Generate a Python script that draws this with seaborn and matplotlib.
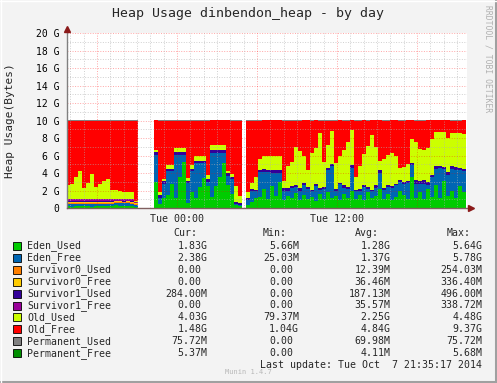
import numpy as np
import pandas as pd
import matplotlib
matplotlib.use("Agg")
import matplotlib.pyplot as plt
import seaborn as sns
from matplotlib.patches import Rectangle
from matplotlib.lines import Line2D

nan = np.nan

# 18-minute samples, Mon 15:42 .. Tue 21:42, values in G (nan = no data)
times = pd.date_range("2014-10-06 15:42", periods=100, freq="18min")

eden_used = [0.2, 0.15, 0.2, 0.2, 0.25, 0.2, 0.15, 0.2, 0.2, 0.25, 0.2, 0.2, 0.3, 0.25, 0.2, 0.25, 0.2, 0.15,
             nan, nan, nan, nan,
             3.0, 0.5, 1.1, 1.5, 2.8, 1.1, 3.6, 5.3, 0.6, 1.8, 1.2, 2.4, 3.4, 2.5, 1.3, 2.5, 3.6, 5.2, 2.6, 1.6, 0.3, 0.25,
             nan,
             0.4, 0.7, 1.1, 1.3, 2.2, 1.0, 2.5, 1.4, 3.0, 0.9, 1.4, 1.1, 1.7, 0.9, 1.5, 1.0, 1.3, 0.8, 1.6, 1.0,
             1.8, 1.2, 1.4, 0.9, 1.6, 1.1, 2.0, 1.0, 1.5, 0.9, 1.8, 1.1, 1.4, 2.2, 1.0, 1.6, 0.9, 1.3, 2.0, 1.5,
             1.0, 3.5, 1.2, 1.8, 1.0, 2.2, 1.3, 2.6, 1.2, 3.1, 1.4, 2.0, 1.1, 2.5, 1.8]
eden_free = [0.25, 0.3, 0.25, 0.25, 0.2, 0.25, 0.3, 0.25, 0.25, 0.2, 0.25, 0.3, 0.3, 0.3, 0.35, 0.3, 0.3, 0.2,
             nan, nan, nan, nan,
             3.09, 0.7, 1.7, 2.68, 1.38, 4.99, 2.49, 0.79, 2.3, 2.38, 3.9, 2.7, 1.7, 0.5, 5.0, 3.8, 2.7, 1.1, 1.1, 1.7, 0.2, 0.15,
             nan,
             0.5, 1.2, 0.8, 2.8, 1.95, 3.1, 1.55, 2.65, 1.0, 1.1, 0.6, 1.2, 0.7, 1.1, 1.1, 1.2, 0.6, 1.7, 0.5, 1.2,
             2.6, 3.6, 0.6, 1.8, 0.7, 1.1, 2.6, 0.9, 0.5, 1.5, 0.4, 0.8, 0.9, 1.8, 1.1, 0.8, 1.4, 1.3, 1.0, 1.3,
             1.9, 1.4, 1.6, 0.9, 1.8, 0.4, 2.2, 1.9, 3.4, 1.4, 2.4, 2.5, 3.3, 1.8, 2.4]
surv0_used = [0.1, 0.1, 0.12, 0.1, 0.1, 0.12, 0.1, 0.1, 0.1, 0.12, 0.1, 0.08, 0.05, 0.1, 0.1, 0.1, 0.1, 0.1,
              nan, nan, nan, nan] + [0.0] * 22 + [nan] + [0.0] * 55
surv0_free = [0.15, 0.15, 0.13, 0.15, 0.15, 0.13, 0.15, 0.15, 0.15, 0.13, 0.15, 0.12, 0.1, 0.1, 0.05, 0.1, 0.12, 0.1,
              nan, nan, nan, nan] + [0.0] * 22 + [nan] + [0.0] * 55
surv1_used = [0.05] * 18 + [nan, nan, nan, nan] + \
             [0.27, 0.25, 0.25, 0.26, 0.26, 0.31, 0.31, 0.31, 0.2, 0.26, 0.25, 0.25, 0.25, 0.3, 0.3, 0.3, 0.3, 0.3, 0.25, 0.25, 0.2, 0.15,
              nan,
              0.25, 0.3, 0.2, 0.3, 0.3, 0.3, 0.3, 0.3, 0.3, 0.3, 0.3, 0.2, 0.2, 0.3, 0.3, 0.2, 0.2, 0.2, 0.2, 0.2,
              0.2, 0.2, 0.2, 0.2, 0.3, 0.2, 0.3, 0.2, 0.2, 0.2, 0.2, 0.2, 0.3, 0.3, 0.2, 0.2, 0.2, 0.2, 0.2, 0.2,
              0.2, 0.2, 0.4, 0.4, 0.4, 0.4, 0.3, 0.3, 0.2, 0.2, 0.3, 0.3, 0.3, 0.3, 0.3]
surv1_free = [0.25] * 17 + [0.1] + [nan, nan, nan, nan] + [0.0] * 22 + [nan] + [0.0] * 55
old_used = [1.65, 1.8, 2.6, 3.25, 1.26, 1.84, 2.9, 1.45, 1.76, 2.03, 2.33, 1.07, 1.02, 0.95, 0.84, 0.79, 0.82, 0.05,
            nan, nan, nan, nan,
            0.31, 0.43, 0.25, 0.46, 0.46, 0.46, 0.46, 0.46, 0.3, 0.46, 0.55, 0.55, 0.55, 0.5, 0.6, 0.6, 0.6, 0.6, 0.25, 0.35, 1.8, 0.85,
            nan,
            0.65, 0.7, 1.5, 1.2, 1.45, 1.5, 1.6, 1.6, 1.6, 0.8, 2.5, 2.8, 4.4, 4.2, 3.0, 2.0, 4.2, 4.2, 6.3, 2.9,
            2.6, 3.8, 2.9, 3.0, 4.0, 5.2, 4.0, 1.5, 2.6, 3.6, 4.7, 6.3, 4.4, 1.1, 3.3, 3.5, 3.8, 3.1, 1.4, 1.7,
            1.9, 2.8, 4.3, 3.7, 3.4, 3.9, 4.1, 3.9, 3.9, 4.0, 3.9, 3.8, 3.9, 4.0, 4.0]
old_free = [7.35, 7.2, 6.4, 5.75, 7.74, 7.16, 6.1, 7.55, 7.24, 6.97, 6.67, 7.93, 7.93, 8.0, 8.16, 8.16, 8.16, 9.25,
            nan, nan, nan, nan,
            3.33, 8.12, 6.7, 5.1, 5.1, 3.14, 3.14, 3.14, 6.6, 5.1, 4.1, 4.1, 4.1, 6.2, 2.8, 2.8, 2.8, 2.8, 5.8, 6.1, 7.5, 8.6,
            nan,
            8.2, 7.1, 6.4, 4.4, 4.1, 4.1, 4.05, 4.05, 4.1, 6.9, 5.2, 4.7, 3.0, 3.5, 4.1, 5.6, 3.7, 3.1, 1.4, 4.7,
            2.8, 1.2, 4.9, 4.1, 3.4, 2.4, 1.1, 6.4, 5.2, 3.8, 2.9, 1.6, 3.0, 4.6, 4.4, 3.9, 3.7, 4.1, 5.4, 5.3,
            5.0, 2.1, 2.5, 3.2, 3.4, 3.1, 2.1, 1.3, 1.3, 1.3, 2.0, 1.4, 1.4, 1.4, 1.5]
perm_used = [0.07] * 18 + [nan] * 4 + [0.07] * 22 + [nan] + [0.07] * 55
perm_free = [0.005] * 18 + [nan] * 4 + [0.005] * 22 + [nan] + [0.005] * 55

series_names = ["Eden_Used", "Eden_Free", "Survivor0_Used", "Survivor0_Free", "Survivor1_Used",
                "Survivor1_Free", "Old_Used", "Old_Free", "Permanent_Used", "Permanent_Free"]
series_colors = ["#00CC00", "#0066B3", "#FF8000", "#FFCC00", "#330099",
                 "#990099", "#CCFF00", "#FF0000", "#808080", "#008F00"]
series_values = [eden_used, eden_free, surv0_used, surv0_free, surv1_used,
                 surv1_free, old_used, old_free, perm_used, perm_free]

cur_vals = ["1.83G", "2.38G", "0.00", "0.00", "284.00M", "0.00", "4.03G", "1.48G", "75.72M", "5.37M"]
min_vals = ["5.66M", "25.03M", "0.00", "0.00", "0.00", "0.00", "79.37M", "1.04G", "0.00", "0.00"]
avg_vals = ["1.28G", "1.37G", "12.39M", "36.46M", "187.13M", "35.57M", "2.25G", "4.84G", "69.98M", "4.11M"]
max_vals = ["5.64G", "5.78G", "254.03M", "336.40M", "496.00M", "338.72M", "4.48G", "9.37G", "75.72M", "5.68M"]

y_ticks = [0, 2, 4, 6, 8, 10, 12, 14, 16, 18, 20]
y_labels = ["0", "2 G", "4 G", "6 G", "8 G", "10 G", "12 G", "14 G", "16 G", "18 G", "20 G"]
x_major = [-6, 0, 6, 12, 18]
x_labels = ["", "Tue 00:00", "", "Tue 12:00", ""]

# 长表：小时（相对周二 00:00）+ 序列 + 数值
hours = np.asarray((times - pd.Timestamp("2014-10-07 00:00")) / pd.Timedelta(hours=1), dtype=float)
step = 0.3
edges = [float(e) for e in np.append(hours, hours[-1] + step)]
rows = []
for name, vals in zip(series_names, series_values):
    for h, v in zip(hours, vals):
        rows.append({"hour": h + step / 2, "series": name, "value": v})
df = pd.DataFrame(rows).dropna()

sns.set_theme(style="white")
plt.rcParams["font.family"] = ["DejaVu Sans Mono"]

W, H = 497, 383
fx = lambda px: px / W
fy = lambda py: 1 - py / H

fig = plt.figure(figsize=(W / 100, H / 100), dpi=100, facecolor="#F3F3F3")
ax = fig.add_axes([fx(67), fy(208), (467 - 67) / W, (208 - 33) / H])
ax.set_facecolor("white")

# seaborn 堆叠：最后一个 hue 在最底层
sns.histplot(data=df, x="hour", weights="value", hue="series",
             hue_order=series_names[::-1], palette=dict(zip(series_names, series_colors)),
             multiple="stack", bins=edges, element="step", fill=True, alpha=1,
             linewidth=0, legend=False, ax=ax)

ax.set_xlim(-8.25, 21.75)
ax.set_ylim(0, 20)

# 网格画在数据之上（RRD 风格）
dots = (0, (1, 1.6))
for y in range(1, 21):
    if y % 2 == 0:
        ax.axhline(y, color="#FF0000", alpha=0.35, lw=0.7, ls=dots, zorder=3)
    else:
        ax.axhline(y, color="#B0B0B0", alpha=0.6, lw=0.7, ls=dots, zorder=3)
for h in range(-8, 22):
    if h % 6 == 0:
        ax.axvline(h, color="#FF0000", alpha=0.35, lw=0.7, ls=dots, zorder=3)
    else:
        ax.axvline(h, color="#B0B0B0", alpha=0.6, lw=0.7, ls=dots, zorder=3)

ax.set_yticks(y_ticks)
ax.set_yticklabels(y_labels)
ax.set_xticks(x_major)
ax.set_xticklabels(x_labels)
ax.set_xticks(range(-8, 22), minor=True)
ax.tick_params(axis="y", length=0, pad=5.5, labelsize=7, colors="black")
ax.tick_params(axis="x", which="major", length=2, width=0.8, color="#E06060", pad=2.5, labelsize=7.2)
ax.tick_params(axis="x", which="minor", length=2, width=0.8, color="#A0A0A0")
ax.set_xlabel("")
ax.set_ylabel("")
for s in ["top", "right"]:
    ax.spines[s].set_visible(False)
ax.spines["left"].set_color("#808080")
ax.spines["bottom"].set_color("#806060")
ax.spines["left"].set_linewidth(1)
ax.spines["bottom"].set_linewidth(1)
ax.spines["left"].set_zorder(4)
ax.spines["bottom"].set_zorder(4)

# 坐标轴箭头
ax.plot([-8.25], [20.45], marker="^", ms=4.5, color="#8B1A1A", clip_on=False, zorder=5)
ax.plot([22.08], [0], marker=">", ms=4.5, color="#8B1A1A", clip_on=False, zorder=5)

# 标题、单位、水印
fig.text(0.5, fy(13), "Heap Usage dinbendon_heap - by day", ha="center", va="center", fontsize=9.5)
fig.text(fx(10), fy(121), "Heap Usage(Bytes)", rotation=90, ha="center", va="center", fontsize=8)
fig.text(fx(488), fy(59), "RRDTOOL / TOBI OETIKER", rotation=270, ha="center", va="center",
         fontsize=5.8, color="#B0B0B0")

# 图例表格
fs = 7.1
fig.text(fx(173), fy(232.5), "Cur:", ha="left", va="center", fontsize=fs)
fig.text(fx(263), fy(232.5), "Min:", ha="left", va="center", fontsize=fs)
fig.text(fx(355), fy(232.5), "Avg:", ha="left", va="center", fontsize=fs)
fig.text(fx(447), fy(232.5), "Max:", ha="left", va="center", fontsize=fs)
col_right = [207.3, 299.0, 390.7, 482.3]
for i, (name, color) in enumerate(zip(series_names, series_colors)):
    ry = 245.7 + 11.96 * i
    fig.add_artist(Rectangle((fx(13), fy(ry + 4)), 8 / W, 8 / H, transform=fig.transFigure,
                             facecolor=color, edgecolor="black", lw=0.6))
    fig.text(fx(27), fy(ry), name, ha="left", va="center", fontsize=fs)
    for xr, v in zip(col_right, [cur_vals[i], min_vals[i], avg_vals[i], max_vals[i]]):
        shift = 0 if v[-1] in "GM" else 5.9
        fig.text(fx(xr - shift), fy(ry), v, ha="right", va="center", fontsize=fs)

fig.text(fx(482.3), fy(365), "Last update: Tue Oct  7 21:35:17 2014", ha="right", va="center", fontsize=fs)
fig.text(fx(248), fy(372.5), "Munin 1.4.7", ha="center", va="center", fontsize=5, color="#B8B8B8")

# 外框
fig.add_artist(Line2D([fx(495.5), fx(495.5)], [0, 1], transform=fig.transFigure, color="#A0A0A0", lw=2.2))
fig.add_artist(Line2D([0, 1], [fy(381.5), fy(381.5)], transform=fig.transFigure, color="#A0A0A0", lw=2.2))
fig.add_artist(Line2D([fx(0.5), fx(0.5)], [0, 1], transform=fig.transFigure, color="#FFFFFF", lw=1))
fig.add_artist(Line2D([0, 1], [fy(0.5), fy(0.5)], transform=fig.transFigure, color="#FFFFFF", lw=1))

fig.savefig("out.png", dpi=100, facecolor=fig.get_facecolor())
